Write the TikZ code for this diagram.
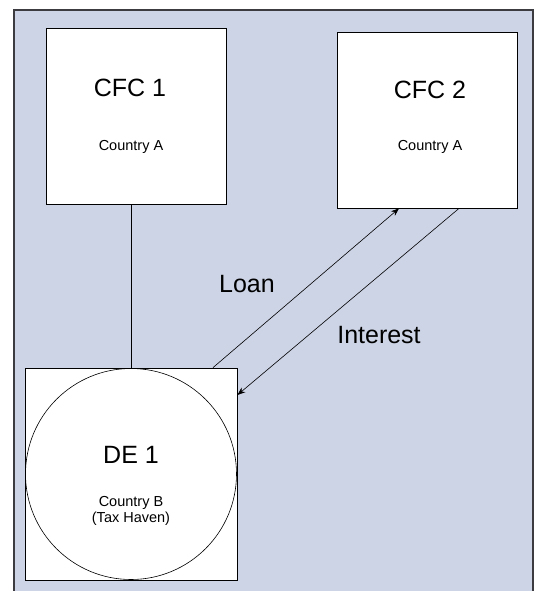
\documentclass[tikz,border=0pt]{standalone}
\usepackage{fontspec}
\setmainfont{Liberation Sans}
\usetikzlibrary{arrows.meta}
\definecolor{panel}{RGB}{205,212,230}
\definecolor{frameline}{RGB}{60,60,64}
\tikzset{ box_style/.style = { rectangle % company box
        , draw = black
        , fill = white
        , line width = 0.8pt
        , inner sep = 0pt
        }
        , title_style/.style = { anchor = base % entity name
        , inner sep = 0pt
        , font = \fontsize{25}{30}\selectfont
        }
        , sub_style/.style = { anchor = base % country
        , inner sep = 0pt
        , font = \fontsize{14.5}{17}\selectfont
        }
        }

\begin{document}
\begin{tikzpicture}[x=1pt, y=-1pt,
        edge_style/.style={draw=black, line width=0.6pt},
        arrow_style/.style={draw=black, line width=0.6pt, -{Stealth[length=8pt,width=6pt]}},
        label_style/.style={inner sep=0pt, font=\fontsize{25}{30}\selectfont}]
        \clip (0,0) rectangle (535,591);
        \fill [white] (0,0) rectangle (535,591);
        \draw [fill=panel, draw=frameline, line width=2.5pt] (14,10) rectangle (533,620);

        \node [box_style, minimum width=180pt, minimum height=176pt] (cfc1) at (136,116) {};
        \node [box_style, minimum width=180pt, minimum height=176pt] (cfc2) at (427,120) {};
        \node [box_style, minimum size=212pt] (de1) at (131,474) {};
        \node [circle, draw=black, line width=0.6pt, inner sep=0pt, minimum size=211pt] (de1c) at (131,474) {};

        \node [title_style] (cfc1t) at (130,97) {CFC 1};
        \node [sub_style] (cfc1s) at (131,150) {Country A};
        \node [title_style] (cfc2t) at (430,99) {CFC 2};
        \node [sub_style] (cfc2s) at (430,150) {Country A};
        \node [title_style] (de1t) at (131,463) {DE 1};
        \node [sub_style] (de1s) at (131,506) {Country B};
        \node [sub_style] (de1n) at (131,522) {(Tax Haven)};

        \draw [edge_style] (de1.north) -- (de1.north |- cfc1.south);
        \draw [arrow_style] ([xshift=82pt]de1.north) -- ([xshift=-28pt]cfc2.south);
        \draw [arrow_style] ([xshift=32pt]cfc2.south) -- ([yshift=79pt]de1.east);

        \node [label_style] (loan) at (247,284) {Loan};
        \node [label_style] (interest) at (379,335) {Interest};
\end{tikzpicture}
\end{document}
